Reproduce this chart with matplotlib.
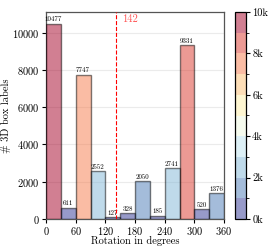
import matplotlib
matplotlib.use("Agg")
import matplotlib.pyplot as plt
import numpy as np
from matplotlib.colors import BoundaryNorm, ListedColormap
from matplotlib.cm import ScalarMappable

plt.rcParams['font.family'] = 'serif'
plt.rcParams['font.serif'] = ['cmr10', 'DejaVu Serif']
plt.rcParams['mathtext.fontset'] = 'cm'
plt.rcParams['axes.formatter.use_mathtext'] = True

bin_edges = [0, 30, 60, 90, 120, 150, 180, 210, 240, 270, 300, 330]
counts = [10477, 611, 7747, 2552, 127, 328, 2050, 185, 2741, 9331, 520, 1376]
x_ticks = [0, 60, 120, 180, 240, 300, 360]
y_ticks = [0, 2000, 4000, 6000, 8000, 10000]
cbar_ticks = [0, 2000, 4000, 6000, 8000, 10000]
cbar_labels = ['0k', '2k', '4k', '6k', '8k', '10k']
mean_rot = 142

fig = plt.figure(figsize=(2.74, 2.47), dpi=100)
ax = fig.add_axes([46/274, 1-219/247, (224-46)/274, (219-12)/247])
cax = fig.add_axes([235/274, 1-219/247, 11/274, (219-12)/247])

cmap = ListedColormap([plt.get_cmap('RdYlBu_r', 10)(i) for i in range(10)])
alpha = 0.5
cmax = max(counts)
for left, c in zip(bin_edges, counts):
    idx = min(int(c / cmax * 10), 9)
    ax.bar(left, c, width=30, align='edge', color=cmap(idx), edgecolor='black',
           linewidth=1.0, alpha=alpha, zorder=3)
    ax.text(left + 15, c + 60, str(c), ha='center', va='bottom', fontsize=5, zorder=4)

ax.axvline(mean_rot, color='red', linestyle='--', linewidth=0.8, zorder=5)
ax.annotate(str(mean_rot), xy=(mean_rot, 1.0), xycoords=('data', 'axes fraction'),
            xytext=(4, -1.5), textcoords='offset points', color='#ff5555',
            ha='left', va='top', fontsize=7.5)

ax.set_xlim(0, 360)
ax.set_ylim(0, 11100)
ax.set_xticks(x_ticks)
ax.set_yticks(y_ticks)
ax.tick_params(labelsize=7.5, length=3, width=0.8, pad=1.5)
ax.tick_params(axis='x', pad=1)
ax.grid(axis='y', color='#ebebeb', linewidth=0.8, zorder=0)
for s in ax.spines.values():
    s.set_color('#555555')
    s.set_linewidth(0.9)
ax.set_xlabel('Rotation in degrees', fontsize=7.5)
ax.xaxis.set_label_coords(0.5, -0.082)
ax.set_ylabel('# 3D box labels', fontsize=7.5, labelpad=1)

norm = BoundaryNorm(np.linspace(0, 10000, 11), 10)
sm = ScalarMappable(norm=norm, cmap=cmap)
cb = fig.colorbar(sm, cax=cax, alpha=alpha)
cb.set_ticks(cbar_ticks)
cb.set_ticklabels(cbar_labels)
cb.ax.tick_params(labelsize=7.5, length=3, width=0.8, pad=1.5)
cb.outline.set_linewidth(0.9)

fig.savefig('out.png', dpi=100)
